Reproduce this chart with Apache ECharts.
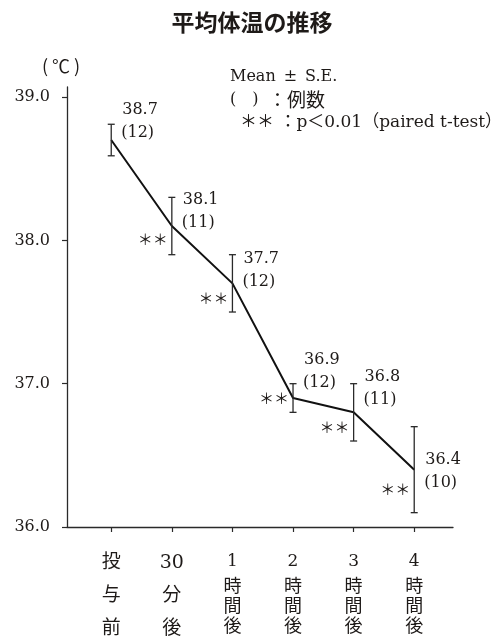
<!DOCTYPE html>
<html>
<head>
<meta charset="utf-8">
<script src="https://cdn.jsdelivr.net/npm/echarts@6/dist/echarts.min.js"></script>
<style>
html,body{margin:0;padding:0;background:#fff;}
#chart{width:495px;height:642px;}
</style>
</head>
<body>
<div id="chart"></div>
<script>
// ---- data ----
const categories = ['投\n与\n前', '30\n分\n後', '1\n時\n間\n後', '2\n時\n間\n後', '3\n時\n間\n後', '4\n時\n間\n後'];
const meanTemp = [38.7, 38.1, 37.7, 36.9, 36.8, 36.4];
const seTemp = [0.11, 0.2, 0.2, 0.1, 0.2, 0.3];
const nCases = [12, 11, 12, 12, 11, 10];
const significant = [false, true, true, true, true, true];
const yTicks = [36, 37, 38, 39];

// ---- layout (label offsets, px) ----
const labelDy = [-30, -26, -25, -38, -35, -10];
const starDy = [0, 13, 15, 0, 15, 20];

const SERIF = '"DejaVu Serif", "Noto Sans CJK JP", serif';
const CJK = '"Noto Sans CJK JP", sans-serif';
const TXT = '#1e1a18';
const AX = '#2a2a2a';

const xIdx = categories.map((c, i) => i);

const chart = echarts.init(document.getElementById('chart'), null, {renderer: 'canvas'});

const option = {
  backgroundColor: '#fff',
  animation: false,
  textStyle: {fontFamily: SERIF, color: TXT},
  grid: {left: 67, right: 42, top: 87, bottom: 115, containLabel: false, outerBoundsMode: 'none'},
  graphic: [
    {type: 'text', x: 252, y: 22, style: {text: '平均体温の推移', font: 'bold 23px ' + CJK, fill: TXT, align: 'center', verticalAlign: 'middle'}},
    {type: 'text', x: 61, y: 66, style: {text: '( ℃ )', font: '18px ' + CJK, fill: TXT, align: 'center', verticalAlign: 'middle'}},
    {type: 'text', x: 230, y: 77, style: {text: 'Mean\u2002±\u2002S.E.', font: '16px ' + SERIF, fill: TXT, align: 'left', verticalAlign: 'middle'}},
    {type: 'text', x: 230, y: 100, style: {
      text: '{p|(\u2002\u2002)}{c|\u2002：例数}',
      align: 'left', verticalAlign: 'middle',
      rich: {
        p: {fontFamily: SERIF, fontSize: 16, fill: TXT},
        c: {fontFamily: CJK, fontSize: 19, fill: TXT}
      }
    }},
    {type: 'text', x: 240, y: 123, style: {text: '＊＊ ：p＜0.01（paired t-test）', font: '17px ' + SERIF, fill: TXT, align: 'left', verticalAlign: 'middle'}}
  ],
  xAxis: {
    type: 'value',
    min: -0.73,
    max: 5.64,
    splitLine: {show: false},
    axisLine: {show: true, onZero: false, lineStyle: {color: AX, width: 1.3}},
    axisTick: {show: true, length: 5, inside: false, customValues: xIdx, lineStyle: {color: AX, width: 1.2}},
    axisLabel: {
      show: true,
      customValues: xIdx,
      margin: 20,
      formatter: function (v) {
        const lab = categories[Math.round(v)];
        if (lab === undefined) return '';
        const lines = lab.split('\n');
        if (lines.length === 3) {
          return lines.map(l => '{a|' + l + '}').join('\n');
        }
        return '{f|' + lines[0] + '}\n' + lines.slice(1).map(l => '{b|' + l + '}').join('\n');
      },
      rich: {
        a: {fontFamily: SERIF, fontSize: 19, lineHeight: 33, color: TXT, align: 'center'},
        f: {fontFamily: SERIF, fontSize: 17, lineHeight: 30, color: TXT, align: 'center'},
        b: {fontFamily: SERIF, fontSize: 18, lineHeight: 20, color: TXT, align: 'center'}
      }
    }
  },
  yAxis: {
    type: 'value',
    min: 36,
    max: 39.07,
    splitLine: {show: false},
    axisLine: {show: true, onZero: false, lineStyle: {color: AX, width: 1.3}},
    axisTick: {show: true, length: 5, inside: false, customValues: yTicks, lineStyle: {color: AX, width: 1.2}},
    axisLabel: {
      show: true,
      customValues: yTicks,
      margin: 17,
      fontFamily: SERIF,
      fontSize: 16,
      color: TXT,
      formatter: v => v.toFixed(1)
    }
  },
  series: [
    {
      type: 'line',
      data: meanTemp.map((m, i) => [xIdx[i], m]),
      symbol: 'none',
      lineStyle: {color: '#111', width: 2},
      z: 3
    },
    {
      type: 'custom',
      data: meanTemp.map((m, i) => [xIdx[i], m, seTemp[i]]),
      z: 4,
      renderItem: function (params, api) {
        const i = params.dataIndex;
        const x = api.value(0), m = api.value(1), se = api.value(2);
        const top = api.coord([x, m + se]);
        const bot = api.coord([x, m - se]);
        const pt = api.coord([x, m]);
        const cap = 3.5;
        const ls = {stroke: AX, lineWidth: 1.3};
        const children = [
          {type: 'line', shape: {x1: top[0], y1: top[1], x2: bot[0], y2: bot[1]}, style: ls},
          {type: 'line', shape: {x1: top[0] - cap, y1: top[1], x2: top[0] + cap, y2: top[1]}, style: ls},
          {type: 'line', shape: {x1: bot[0] - cap, y1: bot[1], x2: bot[0] + cap, y2: bot[1]}, style: ls},
          {type: 'text', x: pt[0] + 11, y: pt[1] + labelDy[i],
            style: {text: m.toFixed(1), font: '16px ' + SERIF, fill: TXT, align: 'left', verticalAlign: 'middle'}},
          {type: 'text', x: pt[0] + 10, y: pt[1] + labelDy[i] + 23,
            style: {text: '(' + nCases[i] + ')', font: '16px ' + SERIF, fill: TXT, align: 'left', verticalAlign: 'middle'}}
        ];
        if (significant[i]) {
          children.push({type: 'text', x: pt[0] - 4, y: pt[1] + starDy[i],
            style: {text: '＊＊', font: '15px ' + CJK, fill: TXT, align: 'right', verticalAlign: 'middle'}});
        }
        return {type: 'group', children: children};
      }
    }
  ]
};

chart.setOption(option);
</script>
</body>
</html>
